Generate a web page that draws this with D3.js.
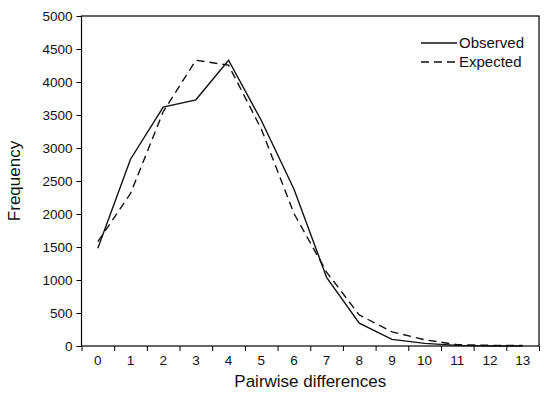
<!DOCTYPE html>
<html>
<head>
<meta charset="utf-8">
<script src="https://cdn.jsdelivr.net/npm/d3@7"></script>
<style>
  html, body { margin: 0; padding: 0; background: #fff; }
  svg { display: block; font-family: "Liberation Sans", Arial, sans-serif; }
</style>
</head>
<body>
<svg id="chart" width="548" height="399"></svg>
<script>
const categories = ["0","1","2","3","4","5","6","7","8","9","10","11","12","13"];
const observed = [1480, 2830, 3620, 3730, 4330, 3420, 2380, 1040, 345, 100, 40, 10, 0, 0];
const expected = [1580, 2310, 3550, 4330, 4255, 3290, 2010, 1120, 470, 215, 95, 20, 10, 10];
const yTicks = [0, 500, 1000, 1500, 2000, 2500, 3000, 3500, 4000, 4500, 5000];
const seriesNames = ["Observed", "Expected"];

const svg = d3.select("#chart");
const L = 81.5, R = 539, T = 16, B = 346;

const x = d3.scaleBand().domain(categories).range([L, R]).paddingInner(0).paddingOuter(0);
const xEdge = d3.scaleLinear().domain([0, categories.length]).range([L, R]);
const y = d3.scaleLinear().domain([0, 5000]).range([B, T]);

// Y axis
const gy = svg.append("g").attr("transform", `translate(${L},0)`)
  .call(d3.axisLeft(y).tickValues(yTicks).tickSize(5).tickPadding(4).tickFormat(d3.format("d")));
gy.select(".domain").remove();
gy.selectAll("line").attr("stroke", "#000").attr("stroke-width", 1);
gy.selectAll("text").attr("font-size", "13.5px").attr("fill", "#111")
  .attr("font-family", "Liberation Sans, Arial, sans-serif");

// X axis boundary ticks
const gxt = svg.append("g").attr("transform", `translate(0,${B})`)
  .call(d3.axisBottom(xEdge).tickValues(d3.range(categories.length + 1)).tickSize(5).tickFormat(""));
gxt.select(".domain").remove();
gxt.selectAll("line").attr("stroke", "#000").attr("stroke-width", 1);

// X axis labels
const gx = svg.append("g").attr("transform", `translate(0,${B})`)
  .call(d3.axisBottom(x).tickSize(0).tickPadding(9));
gx.select(".domain").remove();
gx.selectAll("text").attr("font-size", "13.5px").attr("fill", "#111")
  .attr("font-family", "Liberation Sans, Arial, sans-serif");

// Frame
svg.append("rect").attr("x", L).attr("y", T).attr("width", R - L).attr("height", B - T)
  .attr("fill", "none").attr("stroke", "#000").attr("stroke-width", 1.2);

// Lines
const line = d3.line().x((d, i) => x(categories[i]) + x.bandwidth() / 2).y(d => y(d));
svg.append("path").datum(observed).attr("d", line)
  .attr("fill", "none").attr("stroke", "#111").attr("stroke-width", 1.4);
svg.append("path").datum(expected).attr("d", line)
  .attr("fill", "none").attr("stroke", "#111").attr("stroke-width", 1.4)
  .attr("stroke-dasharray", "8,5");

// Axis titles
svg.append("text").attr("x", (L + R) / 2).attr("y", 387).attr("text-anchor", "middle")
  .attr("font-size", "17px").attr("fill", "#111").text("Pairwise differences");
svg.append("text").attr("transform", `translate(20,${(T + B) / 2}) rotate(-90)`)
  .attr("text-anchor", "middle").attr("font-size", "17px").attr("fill", "#111").text("Frequency");

// Legend
const leg = svg.append("g");
const legY = [43, 62];
seriesNames.forEach((name, i) => {
  leg.append("line").attr("x1", 421).attr("x2", 457).attr("y1", legY[i]).attr("y2", legY[i])
    .attr("stroke", "#111").attr("stroke-width", 1.4)
    .attr("stroke-dasharray", i === 1 ? "8,5" : null);
  leg.append("text").attr("x", 459).attr("y", legY[i] + 5).attr("font-size", "15px")
    .attr("fill", "#111").text(name);
});
</script>
</body>
</html>
